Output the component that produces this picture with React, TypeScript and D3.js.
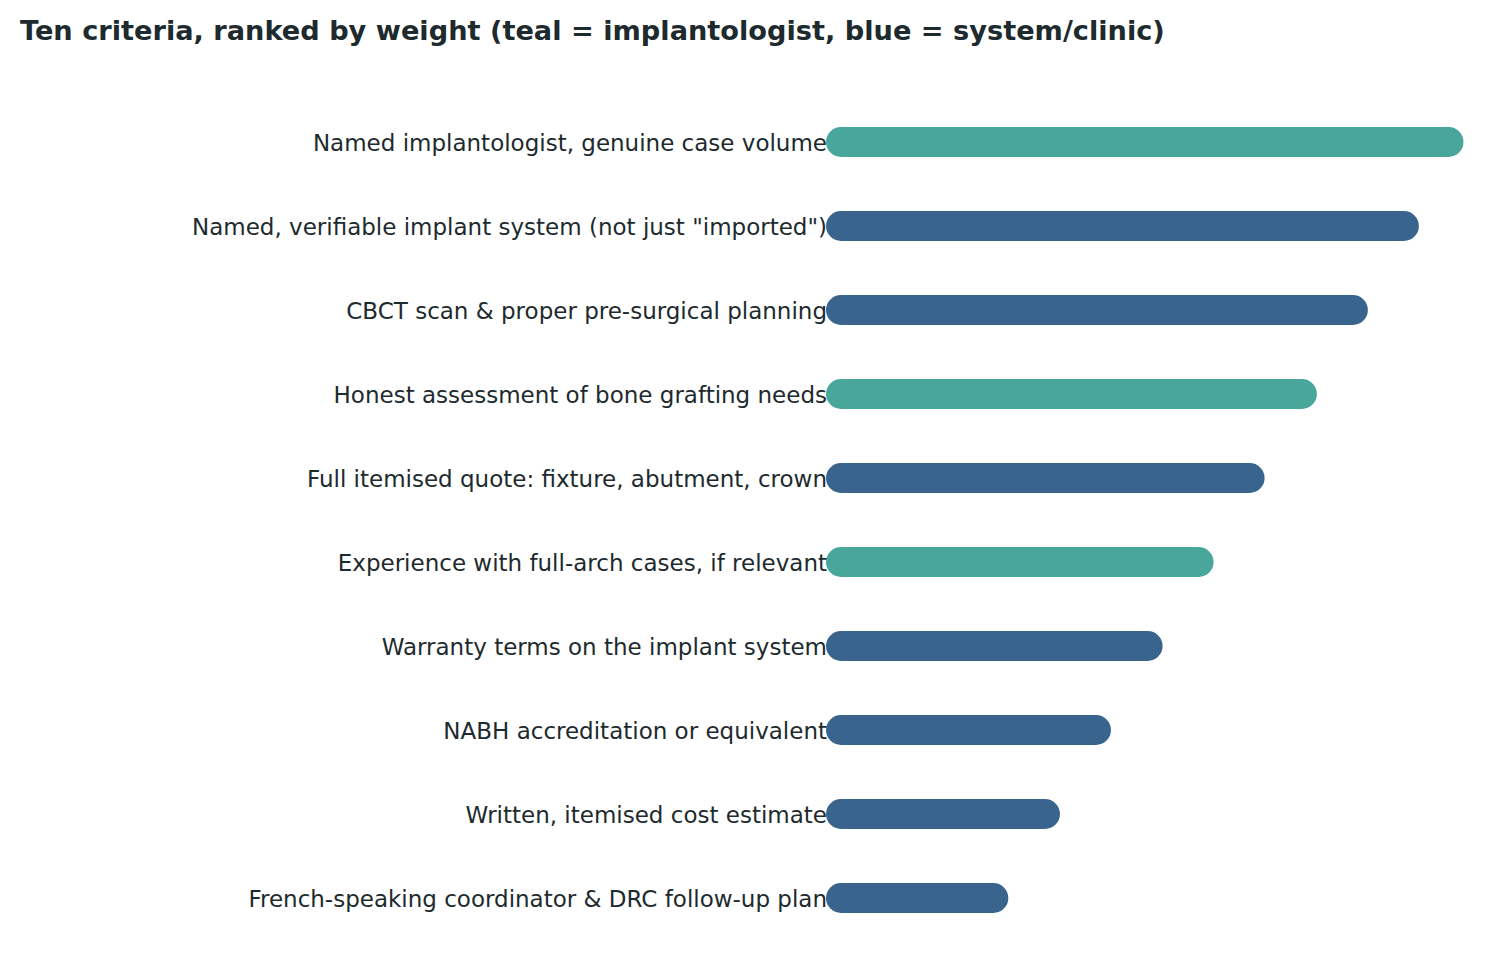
import React from "react";
import * as d3 from "d3";

const criteria = [
  "Named implantologist, genuine case volume",
  'Named, verifiable implant system (not just "imported")',
  "CBCT scan & proper pre-surgical planning",
  "Honest assessment of bone grafting needs",
  "Full itemised quote: fixture, abutment, crown",
  "Experience with full-arch cases, if relevant",
  "Warranty terms on the implant system",
  "NABH accreditation or equivalent",
  "Written, itemised cost estimate",
  "French-speaking coordinator & DRC follow-up plan",
];
const weights = [100, 93, 85, 77, 68.8, 60.8, 52.8, 44.7, 36.7, 28.6];
const groups = ["implantologist", "system", "system", "implantologist", "system", "implantologist", "system", "system", "system", "system"];

const colors: Record<string, string> = { implantologist: "#48a69b", system: "#39648e" };

export default function App() {
  const W = 1500, H = 977;
  const x0 = 826;
  const x = d3.scaleLinear().domain([0, 100]).range([x0, 1463.5]);
  const y = d3.scalePoint<string>().domain(criteria).range([142, 898]);
  const bh = 30;
  return (
    <svg width={W} height={H} style={{ position: "absolute", left: 0, top: 0, background: "#fff" }} fontFamily="DejaVu Sans, sans-serif">
      <text x={20} y={40} fontSize={27.2} fontWeight="bold" fill="#1d2a2e">
        Ten criteria, ranked by weight (teal = implantologist, blue = system/clinic)
      </text>
      {criteria.map((c, i) => {
        const cy = y(c) as number;
        return (
          <g key={c}>
            <rect x={x(0)} y={cy - bh / 2} width={x(weights[i]) - x(0)} height={bh} rx={15} ry={15} fill={colors[groups[i]]} />
            <text x={x0 + 1} y={cy + 8.5} textAnchor="end" fontSize={23} fill="#1d2a2e">
              {c}
            </text>
          </g>
        );
      })}
    </svg>
  );
}
